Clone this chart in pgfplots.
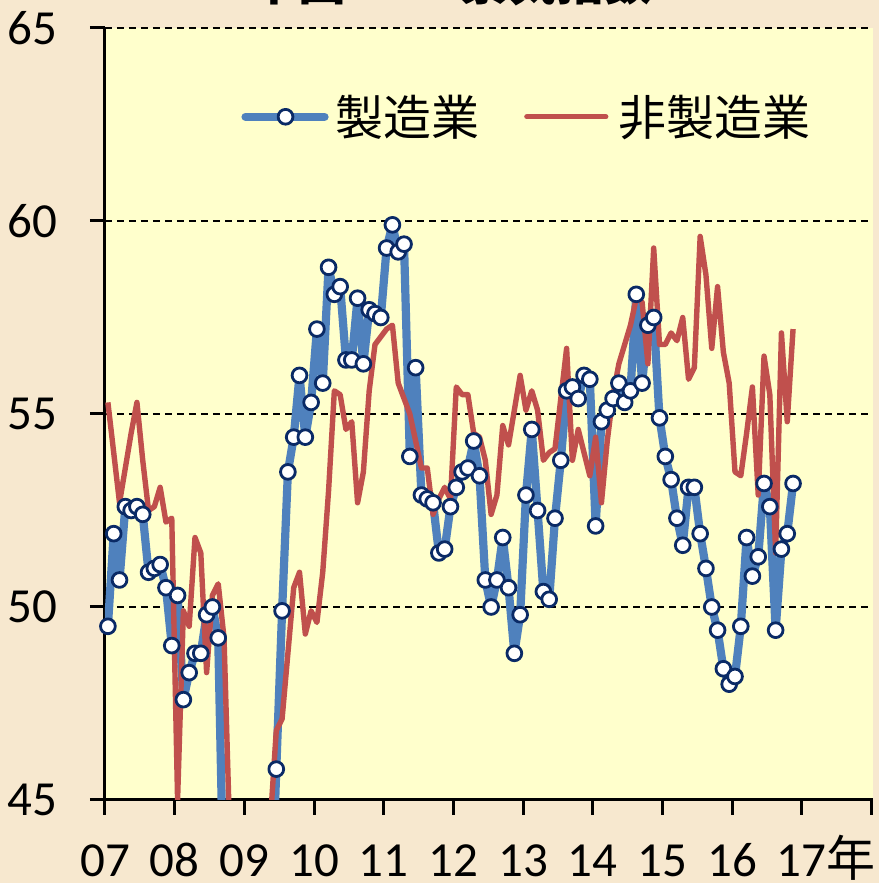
\documentclass[border=0pt]{standalone}
\usepackage{fontspec}
\setmainfont{Carlito}
\newfontfamily\jp{Noto Sans CJK JP}
\usepackage{pgfplots}
\usepackage{pgfplotstable}
\pgfplotsset{compat=1.18}

\definecolor{pagebg}{HTML}{F7E8CF}
\definecolor{plotbg}{HTML}{FFFFCC}
\definecolor{mfgblue}{HTML}{4F81BD}
\definecolor{nonred}{HTML}{C0504D}
\definecolor{navy}{HTML}{0A2A66}

% month index (0 = Jan 2007), manufacturing, non-manufacturing
\pgfplotstableread{
m mfg non
0 49.5 55.3
1 51.9 54.0
2 50.7 52.7
3 52.6 53.6
4 52.5 54.5
5 52.6 55.3
6 52.4 53.8
7 50.9 52.5
8 51.0 52.6
9 51.1 53.1
10 50.5 52.2
11 49.0 52.3
12 50.3 45.0
13 47.6 49.9
14 48.3 49.5
15 48.8 51.8
16 48.8 51.4
17 49.8 48.3
18 50.0 50.3
19 49.2 50.6
20 42.0 49.2
21 40.0 44.0
22 38.5 42.0
23 38.0 41.0
24 38.5 41.0
25 39.5 41.0
26 40.5 42.0
27 41.0 43.0
28 41.5 44.5
29 45.8 46.8
30 49.9 47.1
31 53.5 48.8
32 54.4 50.5
33 56.0 50.9
34 54.4 49.3
35 55.3 49.9
36 57.2 49.6
37 55.8 50.9
38 58.8 53.0
39 58.1 55.6
40 58.3 55.5
41 56.4 54.6
42 56.4 54.8
43 58.0 52.7
44 56.3 53.5
45 57.7 55.6
46 57.6 56.8
47 57.5 57.0
48 59.3 57.2
49 59.9 57.3
50 59.2 55.8
51 59.4 55.4
52 53.9 55.0
53 56.2 54.3
54 52.9 53.6
55 52.8 53.6
56 52.7 52.4
57 51.4 52.8
58 51.5 53.1
59 52.6 52.8
60 53.1 55.7
61 53.5 55.5
62 53.6 55.5
63 54.3 54.5
64 53.4 54.4
65 50.7 53.8
66 50.0 52.4
67 50.7 52.9
68 51.8 54.7
69 50.5 54.2
70 48.8 55.1
71 49.8 56.0
72 52.9 55.1
73 54.6 55.6
74 52.5 55.1
75 50.4 53.8
76 50.2 54.0
77 52.3 54.1
78 53.8 55.4
79 55.6 56.7
80 55.7 53.8
81 55.4 54.6
82 56.0 54.0
83 55.9 53.4
84 52.1 54.4
85 54.8 52.7
86 55.1 54.3
87 55.4 55.5
88 55.8 56.3
89 55.3 56.8
90 55.6 57.3
91 58.1 58.0
92 55.8 57.9
93 57.3 56.3
94 57.5 59.3
95 54.9 56.8
96 53.9 56.8
97 53.3 57.1
98 52.3 56.9
99 51.6 57.5
100 53.1 55.9
101 53.1 56.2
102 51.9 59.6
103 51.0 58.6
104 50.0 56.7
105 49.4 58.3
106 48.4 56.6
107 48.0 55.8
108 48.2 53.5
109 49.5 53.4
110 51.8 54.5
111 50.8 55.7
112 51.3 52.9
113 53.2 56.5
114 52.6 55.5
115 49.4 51.4
116 51.5 57.1
117 51.9 54.8
118 53.2 57.2
}\pmidata

\begin{document}
\begin{tikzpicture}
\fill[pagebg] (-52.5pt,-41.5pt) rectangle (387pt,400pt);
% title: only its lower edge shows above the plot, as in the source
\node[font=\jp\bfseries\fontsize{24}{28}\selectfont, anchor=base west, inner sep=0pt]
  at (72.5pt,399.8pt) {中国 PMI 景気指数};
\begin{axis}[
    at={(0,0)}, anchor=south west,
    scale only axis, width=383.8pt, height=386pt,
    xmin=-0.5, xmax=131.7, ymin=45, ymax=65,
    axis x line=bottom, axis y line=left,
    axis line style={-, line width=1.5pt, black},
    axis background/.style={fill=plotbg},
    xtick={-0.5,11.5,...,131.5},
    xticklabels={07,08,09,10,11,12,13,14,15,16,17\rlap{\jp 年},{}},
    ytick={45,50,55,60,65},
    ymajorgrids,
    major grid style={black, line width=0.9pt, dash pattern=on 3.5pt off 2.5pt},
    tick align=outside, major tick length=7.5pt,
    tick style={line width=1.5pt, black},
    /pgf/number format/assume math mode=true,
    tick label style={font=\fontsize{24.5}{29}\selectfont, inner sep=0pt},
    yticklabel style={anchor=east, xshift=-16pt},
    xticklabel style={anchor=base, yshift=-31pt},
    legend style={at={(0.172,0.885)}, anchor=west, draw=none, fill=none,
      inner sep=0pt, legend columns=2,
      nodes={inner sep=0pt, anchor=center},
      font=\jp\fontsize{24}{28}\selectfont,
      /tikz/every even column/.append style={column sep=21pt}},
    line join=round,
  ]
\addplot[mfgblue, line width=4.1pt, mark=*, mark size=3.7pt,
  mark options={fill=white, draw=navy, line width=1.4pt, solid},
  legend image code/.code={
    \path (0pt,0pt) (45pt,0pt);
    \draw[mfgblue, line width=4.1pt, line cap=round] (2pt,0pt) -- (41.5pt,0pt);
    \draw[navy, fill=white, line width=1.4pt] (22pt,0pt) circle (3.7pt);
  }] table[x=m, y=mfg] {\pmidata};
\addlegendentry{製造業}
\addplot[nonred, line width=2.7pt,
  legend image code/.code={
    \path (0pt,0pt) (45.5pt,0pt);
    \draw[nonred, line width=2.7pt, line cap=round] (1.3pt,0pt) -- (40.7pt,0pt);
  }] table[x=m, y=non] {\pmidata};
\addlegendentry{非製造業}
\end{axis}
\pgfresetboundingbox
\path[use as bounding box] (-52.5pt,-41.5pt) rectangle (387pt,400pt);
\end{tikzpicture}
\end{document}
